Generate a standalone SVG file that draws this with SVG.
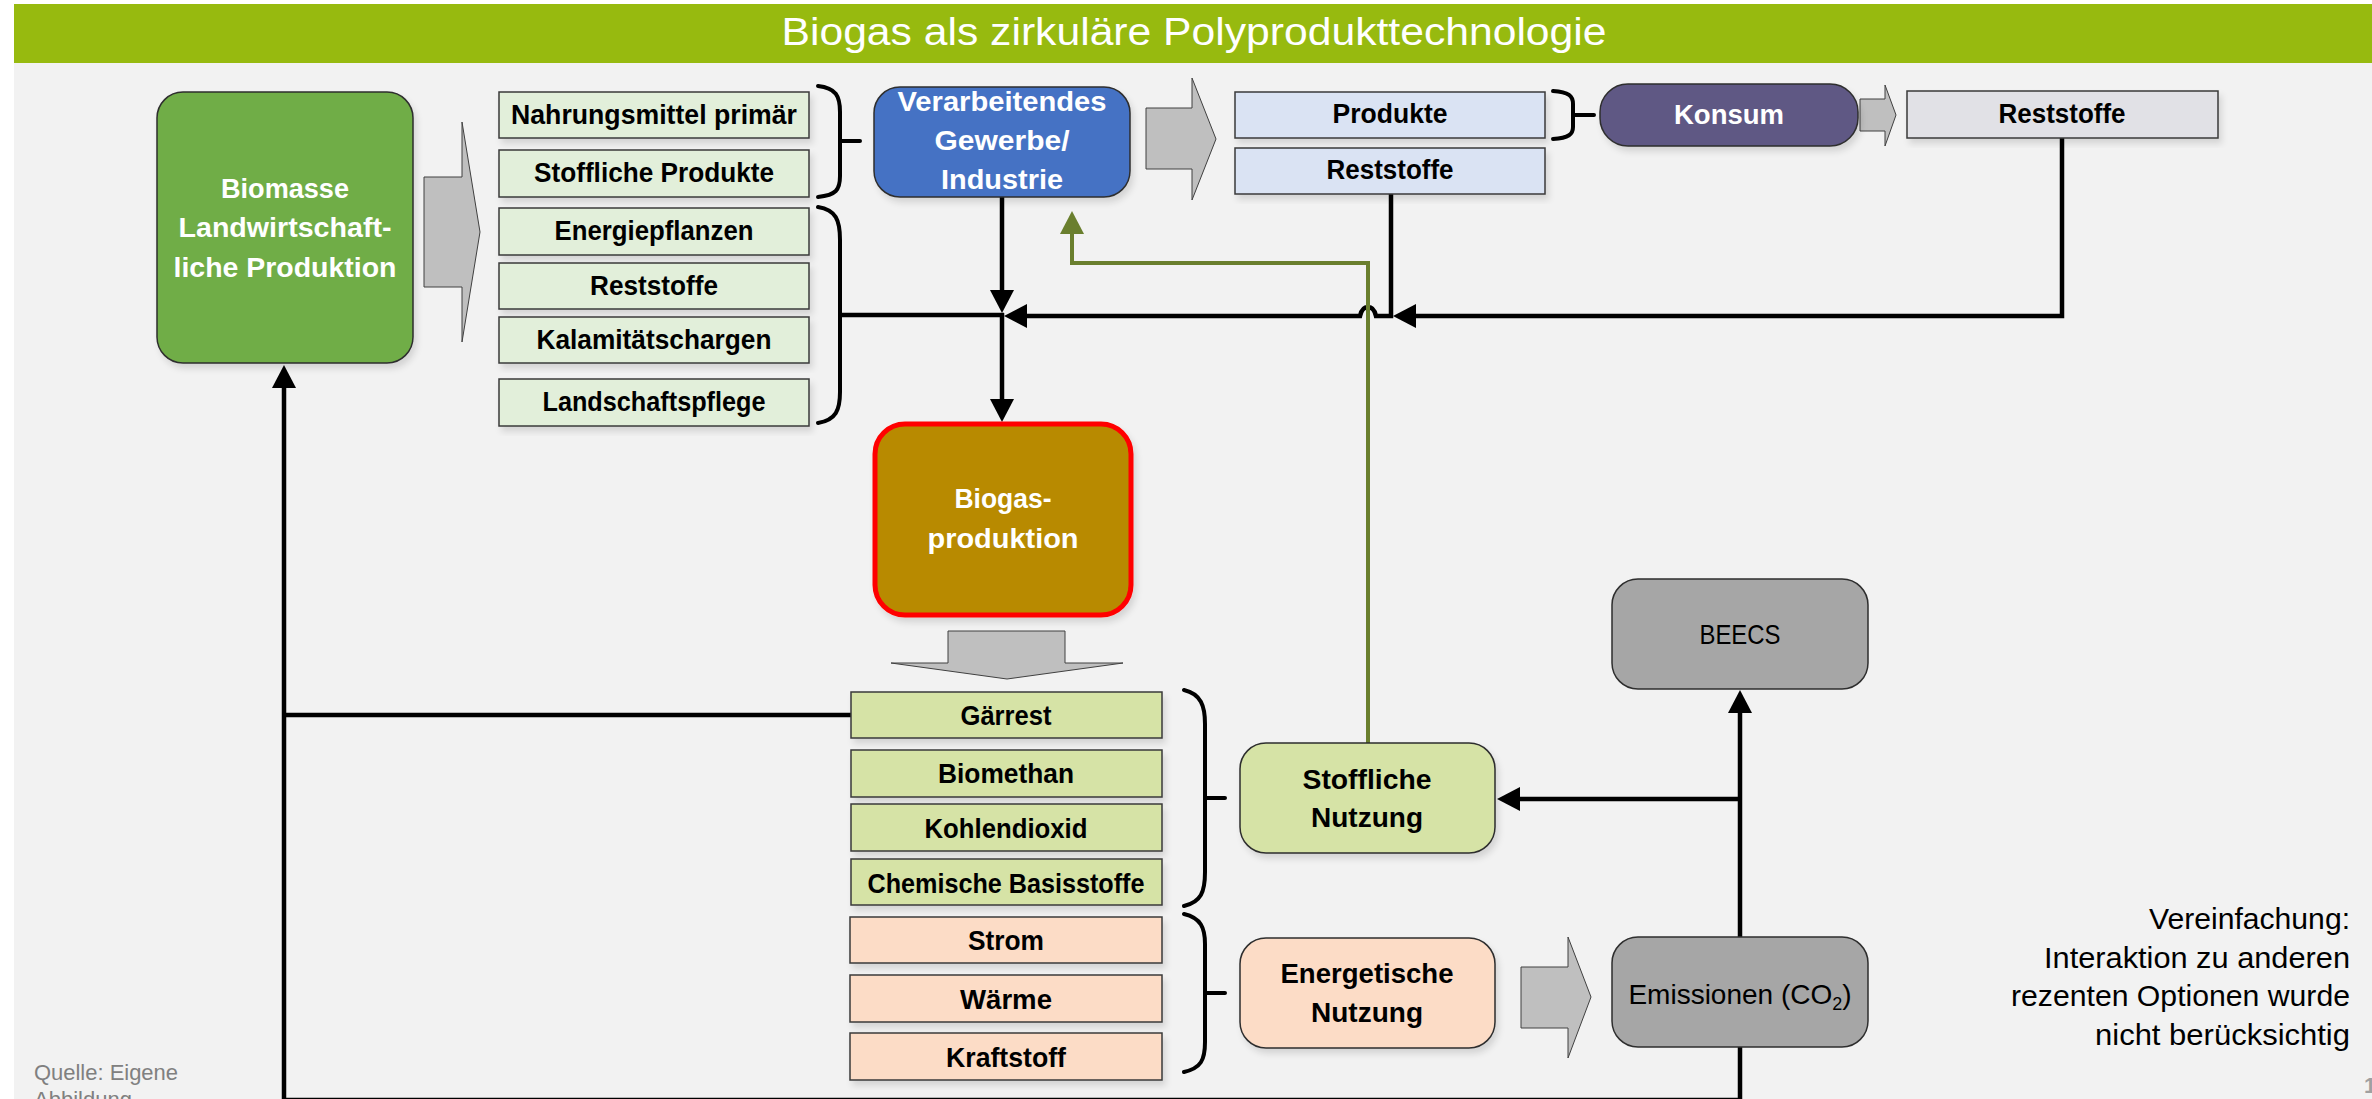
<svg xmlns="http://www.w3.org/2000/svg" width="2372" height="1099" viewBox="0 0 2372 1099">
<style>
.box{stroke:#3a3a3a;stroke-width:1.5}
.rbox{stroke:#2e2e2e;stroke-width:1.5}
.t{font-family:"Liberation Sans",Arial,sans-serif;font-weight:bold;font-size:27px;fill:#000;text-anchor:middle}
.tw{font-family:"Liberation Sans",Arial,sans-serif;font-weight:bold;font-size:28px;fill:#fff;text-anchor:middle}
.tr{font-family:"Liberation Sans",Arial,sans-serif;font-size:28px;fill:#000;text-anchor:middle}
.note{font-family:"Liberation Sans",Arial,sans-serif;font-size:29px;fill:#000;text-anchor:end}
.blk{fill:#bfbfbf;stroke:#404040;stroke-width:1}
.con{fill:none;stroke:#000;stroke-width:4.5}
.gcon{fill:none;stroke:#6a7f2e;stroke-width:4}
.brace{fill:none;stroke:#000;stroke-width:4;stroke-linecap:round}
</style>
<defs>
<filter id="sh" x="-10%" y="-10%" width="130%" height="130%">
<feDropShadow dx="3" dy="5" stdDeviation="3" flood-color="#000" flood-opacity="0.12"/>
</filter>
<marker id="ah" markerUnits="userSpaceOnUse" markerWidth="24" markerHeight="24" refX="0" refY="12" orient="auto" viewBox="0 0 24 24">
<path d="M0,0 L23,12 L0,24 Z" fill="#000"/>
</marker>
<marker id="ahg" markerUnits="userSpaceOnUse" markerWidth="24" markerHeight="24" refX="0" refY="12" orient="auto" viewBox="0 0 24 24">
<path d="M0,0 L23,12 L0,24 Z" fill="#6a7f2e"/>
</marker>
</defs>

<rect x="0" y="0" width="2372" height="1099" fill="#ffffff"/>
<rect x="14" y="63" width="2358" height="1036" fill="#f2f2f2"/>
<g id="title">
<rect x="14" y="4" width="2358" height="59" fill="#97ba0f"/>
<text x="1194" y="45" font-family="'Liberation Sans',Arial,sans-serif" font-size="38" fill="#fff" text-anchor="middle" textLength="825" lengthAdjust="spacingAndGlyphs">Biogas als zirkuläre Polyprodukttechnologie</text>
</g>

<g id="connectors">
<path class="con" d="M1002,197 V290" marker-end="url(#ah)"/>
<path class="con" d="M1002,313 V399" marker-end="url(#ah)"/>
<path class="con" d="M839,315 H1004"/>
<path class="con" d="M1391,194 V316 H1376 Q1374,307 1368,307 Q1362,307 1360,316 H1027" marker-end="url(#ah)"/>
<path class="con" d="M2062,138 V316 H1416" marker-end="url(#ah)"/>
<path class="gcon" d="M1368,743 V263 H1072 V234" marker-end="url(#ahg)"/>
<path class="con" d="M851,715 H284"/>
<path class="con" d="M1740,1047 V1100 H284 V388" marker-end="url(#ah)"/>
<path class="con" d="M1740,937 V713" marker-end="url(#ah)"/>
<path class="con" d="M1740,799 H1520" marker-end="url(#ah)"/>
<path class="brace" d="M818,86 C836,88 840,96 840,112 V176 C840,190 836,195 818,197 M840,141 H860"/>
<path class="brace" d="M818,207 C836,210 840,220 840,240 V392 C840,410 836,420 818,423"/>
<path class="brace" d="M1553,91 C1569,92 1573,96 1573,104 V127 C1573,134 1569,138 1553,139 M1573,115 H1594"/>
<path class="brace" d="M1184,690 C1201,694 1205,706 1205,724 V872 C1205,892 1201,902 1184,906 M1205,798 H1225"/>
<path class="brace" d="M1184,914 C1201,918 1205,928 1205,944 V1042 C1205,1060 1201,1068 1184,1072 M1205,993 H1225"/>
<polygon class="blk" points="424,177 462,177 462,122 480,232 462,342 462,287 424,287"/>
<polygon class="blk" points="1146,108 1192,108 1192,78 1216,139 1192,200 1192,169 1146,169"/>
<polygon class="blk" points="1860,99 1885,99 1885,85 1896,115 1885,146 1885,131 1860,131"/>
<polygon class="blk" points="948,631 1065,631 1065,663 1123,663 1007,679 891,663 948,663"/>
<polygon class="blk" points="1521,967 1568,967 1568,937 1591,997 1568,1058 1568,1028 1521,1028"/>
</g>

<g id="biomasse">
<rect class="rbox" x="157" y="92" width="256" height="271" rx="26" fill="#70ad47" filter="url(#sh)"/>
<text class="tw" x="285" y="198" textLength="128" lengthAdjust="spacingAndGlyphs">Biomasse</text>
<text class="tw" x="285" y="237" textLength="213" lengthAdjust="spacingAndGlyphs">Landwirtschaft-</text>
<text class="tw" x="285" y="277" textLength="223" lengthAdjust="spacingAndGlyphs">liche Produktion</text>
</g>

<g id="nahrungsmittel">
<rect class="box" x="499" y="92" width="310" height="46" fill="#e2efda" filter="url(#sh)"/>
<text class="t" x="654" y="124" textLength="286" lengthAdjust="spacingAndGlyphs">Nahrungsmittel primär</text>
</g>
<g id="stoffliche-produkte">
<rect class="box" x="499" y="150" width="310" height="47" fill="#e2efda" filter="url(#sh)"/>
<text class="t" x="654" y="182" textLength="240" lengthAdjust="spacingAndGlyphs">Stoffliche Produkte</text>
</g>
<g id="energiepflanzen">
<rect class="box" x="499" y="208" width="310" height="47" fill="#e2efda" filter="url(#sh)"/>
<text class="t" x="654" y="240" textLength="199" lengthAdjust="spacingAndGlyphs">Energiepflanzen</text>
</g>
<g id="reststoffe-1">
<rect class="box" x="499" y="263" width="310" height="46" fill="#e2efda" filter="url(#sh)"/>
<text class="t" x="654" y="295" textLength="128" lengthAdjust="spacingAndGlyphs">Reststoffe</text>
</g>
<g id="kalamitaet">
<rect class="box" x="499" y="317" width="310" height="46" fill="#e2efda" filter="url(#sh)"/>
<text class="t" x="654" y="349" textLength="235" lengthAdjust="spacingAndGlyphs">Kalamitätschargen</text>
</g>
<g id="landschaftspflege">
<rect class="box" x="499" y="379" width="310" height="47" fill="#e2efda" filter="url(#sh)"/>
<text class="t" x="654" y="411" textLength="223" lengthAdjust="spacingAndGlyphs">Landschaftspflege</text>
</g>

<g id="verarbeitendes">
<rect class="rbox" x="874" y="87" width="256" height="110" rx="26" fill="#4472c4" filter="url(#sh)"/>
<text class="tw" x="1002" y="111" textLength="209" lengthAdjust="spacingAndGlyphs">Verarbeitendes</text>
<text class="tw" x="1002" y="150" textLength="135" lengthAdjust="spacingAndGlyphs">Gewerbe/</text>
<text class="tw" x="1002" y="189" textLength="122" lengthAdjust="spacingAndGlyphs">Industrie</text>
</g>

<g id="produkte">
<rect class="box" x="1235" y="92" width="310" height="46" fill="#dae3f3" filter="url(#sh)"/>
<text class="t" x="1390" y="123" textLength="115" lengthAdjust="spacingAndGlyphs">Produkte</text>
</g>
<g id="reststoffe-2">
<rect class="box" x="1235" y="148" width="310" height="46" fill="#dae3f3" filter="url(#sh)"/>
<text class="t" x="1390" y="179" textLength="127" lengthAdjust="spacingAndGlyphs">Reststoffe</text>
</g>

<g id="konsum">
<rect class="rbox" x="1600" y="84" width="258" height="62" rx="28" fill="#5f5884" filter="url(#sh)"/>
<text class="tw" x="1729" y="124" textLength="110" lengthAdjust="spacingAndGlyphs">Konsum</text>
</g>

<g id="reststoffe-3">
<rect class="box" x="1907" y="91" width="311" height="47" fill="#e1e1e6" filter="url(#sh)"/>
<text class="t" x="2062" y="123" textLength="127" lengthAdjust="spacingAndGlyphs">Reststoffe</text>
</g>

<g id="biogasproduktion">
<rect x="875" y="424" width="256" height="191" rx="30" fill="#b88a00" stroke="#ff0000" stroke-width="5" filter="url(#sh)"/>
<text class="tw" x="1003" y="508" textLength="97" lengthAdjust="spacingAndGlyphs">Biogas-</text>
<text class="tw" x="1003" y="548" textLength="151" lengthAdjust="spacingAndGlyphs">produktion</text>
</g>

<g id="gaerrest">
<rect class="box" x="851" y="692" width="311" height="46" fill="#d6e3a6" filter="url(#sh)"/>
<text class="t" x="1006" y="725" textLength="91" lengthAdjust="spacingAndGlyphs">Gärrest</text>
</g>
<g id="biomethan">
<rect class="box" x="851" y="750" width="311" height="47" fill="#d6e3a6" filter="url(#sh)"/>
<text class="t" x="1006" y="783" textLength="136" lengthAdjust="spacingAndGlyphs">Biomethan</text>
</g>
<g id="kohlendioxid">
<rect class="box" x="851" y="804" width="311" height="47" fill="#d6e3a6" filter="url(#sh)"/>
<text class="t" x="1006" y="838" textLength="163" lengthAdjust="spacingAndGlyphs">Kohlendioxid</text>
</g>
<g id="chemische">
<rect class="box" x="851" y="859" width="311" height="46" fill="#d6e3a6" filter="url(#sh)"/>
<text class="t" x="1006" y="893" textLength="277" lengthAdjust="spacingAndGlyphs">Chemische Basisstoffe</text>
</g>
<g id="strom">
<rect class="box" x="850" y="917" width="312" height="46" fill="#fcdcc6" filter="url(#sh)"/>
<text class="t" x="1006" y="950" textLength="76" lengthAdjust="spacingAndGlyphs">Strom</text>
</g>
<g id="waerme">
<rect class="box" x="850" y="975" width="312" height="47" fill="#fcdcc6" filter="url(#sh)"/>
<text class="t" x="1006" y="1009" textLength="92" lengthAdjust="spacingAndGlyphs">Wärme</text>
</g>
<g id="kraftstoff">
<rect class="box" x="850" y="1033" width="312" height="47" fill="#fcdcc6" filter="url(#sh)"/>
<text class="t" x="1006" y="1067" textLength="120" lengthAdjust="spacingAndGlyphs">Kraftstoff</text>
</g>

<g id="stoffliche-nutzung">
<rect class="rbox" x="1240" y="743" width="255" height="110" rx="26" fill="#d6e3a6" filter="url(#sh)"/>
<text class="t" x="1367" y="789" textLength="129" lengthAdjust="spacingAndGlyphs">Stoffliche</text>
<text class="t" x="1367" y="827" textLength="112" lengthAdjust="spacingAndGlyphs">Nutzung</text>
</g>
<g id="energetische-nutzung">
<rect class="rbox" x="1240" y="938" width="255" height="110" rx="26" fill="#fcdcc6" filter="url(#sh)"/>
<text class="t" x="1367" y="983" textLength="173" lengthAdjust="spacingAndGlyphs">Energetische</text>
<text class="t" x="1367" y="1022" textLength="112" lengthAdjust="spacingAndGlyphs">Nutzung</text>
</g>

<g id="beecs">
<rect class="rbox" x="1612" y="579" width="256" height="110" rx="26" fill="#a6a6a6"/>
<text class="tr" x="1740" y="644" textLength="81" lengthAdjust="spacingAndGlyphs">BEECS</text>
</g>
<g id="emissionen">
<rect class="rbox" x="1612" y="937" width="256" height="110" rx="26" fill="#a6a6a6"/>
<text class="tr" x="1740" y="1004">Emissionen (CO<tspan font-size="18" dy="6">2</tspan><tspan dy="-6">)</tspan></text>
</g>

<g id="note">
<text class="note" x="2350" y="929" textLength="201" lengthAdjust="spacingAndGlyphs">Vereinfachung:</text>
<text class="note" x="2350" y="968" textLength="306" lengthAdjust="spacingAndGlyphs">Interaktion zu anderen</text>
<text class="note" x="2350" y="1006" textLength="339" lengthAdjust="spacingAndGlyphs">rezenten Optionen wurde</text>
<text class="note" x="2350" y="1045" textLength="255" lengthAdjust="spacingAndGlyphs">nicht berücksichtig</text>
</g>

<g id="footer">
<text x="34" y="1080" font-family="'Liberation Sans',Arial,sans-serif" font-size="22" fill="#808080" textLength="144" lengthAdjust="spacingAndGlyphs">Quelle: Eigene</text>
<text x="34" y="1107" font-family="'Liberation Sans',Arial,sans-serif" font-size="22" fill="#808080">Abbildung</text>
<text x="2364" y="1093" font-family="'Liberation Sans',Arial,sans-serif" font-size="22" font-weight="bold" fill="#a0a0a0">1</text>
</g>
</svg>
